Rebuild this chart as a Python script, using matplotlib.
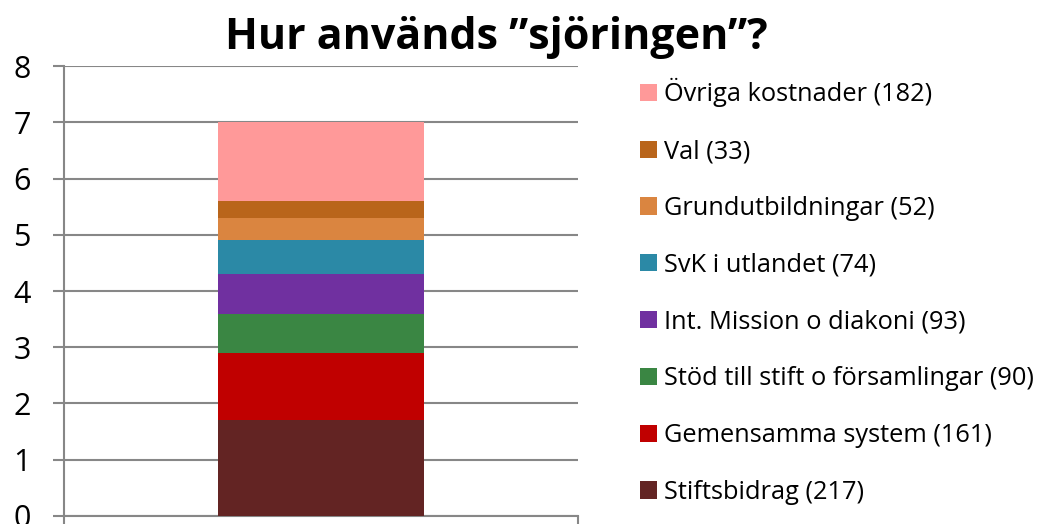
import matplotlib
matplotlib.use('Agg')
import matplotlib.pyplot as plt
from matplotlib.patches import Patch

# Data (stacked from bottom to top)
kategorier = ['Stiftsbidrag (217)', 'Gemensamma system (161)', 'Stöd till stift o församlingar (90)',
              'Int. Mission o diakoni (93)', 'SvK i utlandet (74)', 'Grundutbildningar (52)',
              'Val (33)', 'Övriga kostnader (182)']
varden = [1.7, 1.2, 0.7, 0.7, 0.6, 0.4, 0.3, 1.4]
farger = ['#632423', '#C00000', '#3A8643', '#7030A0', '#2B89A6', '#DA8540', '#B9651B', '#FF9999']
y_ticks = [0, 1, 2, 3, 4, 5, 6, 7, 8]

plt.rcParams['font.family'] = ['Open Sans', 'DejaVu Sans']

fig = plt.figure(figsize=(10.41, 5.24), dpi=100)
ax = fig.add_axes([0.0615, 0.0153, 0.4937, 0.8587])

# Stacked bar
botten = 0
for namn, v, f in zip(kategorier, varden, farger):
    ax.bar(0, v, width=0.4, bottom=botten, color=f, label=namn, zorder=3)
    botten += v

ax.set_xlim(-0.5, 0.5)
ax.set_ylim(0, 8)
ax.set_yticks(y_ticks)
ax.set_yticklabels([str(t) for t in y_ticks], fontsize=22)
ax.set_xticks([-0.5, 0.5])
ax.set_xticklabels([])
ax.tick_params(axis='y', length=8, width=1.5, color='#878787', pad=16)
ax.tick_params(axis='x', length=6, width=1.5, color='#878787')
ax.yaxis.grid(True, color='#878787', linewidth=1.5, zorder=0)

ax.spines['top'].set_visible(False)
ax.spines['right'].set_visible(False)
for s in ['left', 'bottom']:
    ax.spines[s].set_color('#878787')
    ax.spines[s].set_linewidth(1.5)

fig.text(0.477, 0.906, 'Hur används \u201dsjöringen\u201d?', fontsize=31, fontweight='bold',
         ha='center', va='baseline')

# Legend, top item = last segment
handles = [Patch(facecolor=f, edgecolor='none') for f in farger][::-1]
etiketter = kategorier[::-1]
leg = fig.legend(handles, etiketter, loc='upper left', bbox_to_anchor=(0.605, 0.870),
                 frameon=False, fontsize=18.3, handlelength=0.67, handleheight=0.67,
                 handletextpad=0.27, labelspacing=1.25, borderaxespad=0)

fig.savefig('out.png', dpi=100)
